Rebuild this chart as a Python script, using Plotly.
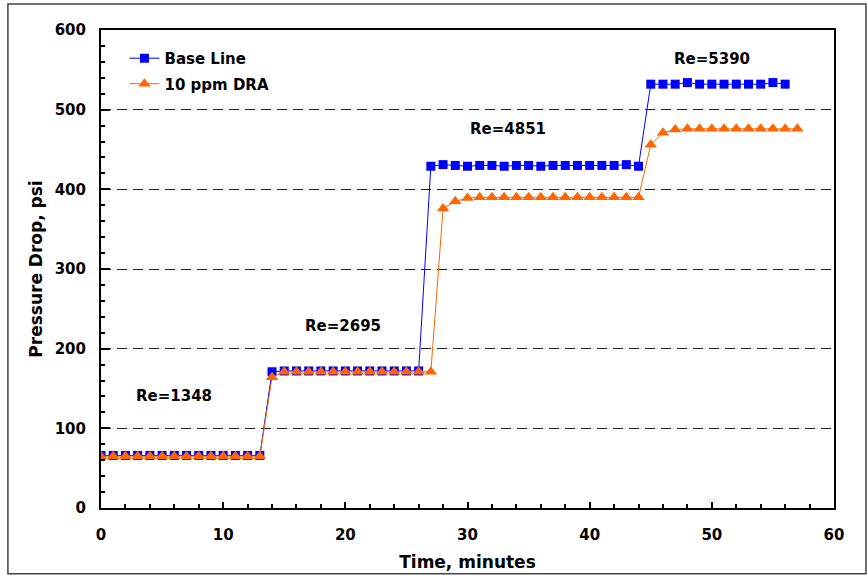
import plotly.graph_objects as go

# Base Line series
base_t = list(range(0, 57))
base_p = ([66]*14 +
          [171, 172, 172, 172, 172, 172, 172, 172, 172, 172, 172, 172, 172] +
          [429, 431, 430, 429, 430, 430, 429, 430, 430, 429, 430, 430, 430, 430, 430, 430, 431, 429] +
          [532, 532, 532, 534, 532, 532, 532, 532, 532, 532, 534, 532])

# 10 ppm DRA series
dra_t = list(range(0, 58))
dra_p = ([65]*14 +
         [164, 171, 171, 171, 171, 171, 171, 171, 171, 171, 171, 171, 171, 171] +
         [376, 385, 389, 390, 390, 390, 390, 390, 390, 390, 390, 390, 390, 390, 390, 390, 390] +
         [456, 471, 475, 476, 476, 476, 476, 476, 476, 476, 476, 476, 476])

ann_text = ["Re=1348", "Re=2695", "Re=4851", "Re=5390"]
ann_x = [6.0, 19.8, 33.3, 50.0]
ann_y = [140, 228, 476, 564]

FONT = "DejaVu Sans, Arial, sans-serif"

fig = go.Figure()
fig.add_trace(go.Scatter(
    x=base_t, y=base_p, name="<b>Base Line</b>", mode="lines+markers",
    legendgroup="a",
    line=dict(color="#0000FF", width=1),
    marker=dict(symbol="square", size=9, color="#0000FF")))
fig.add_trace(go.Scatter(
    x=dra_t, y=dra_p, name="<b>10 ppm DRA</b>", mode="lines+markers",
    legendgroup="b",
    line=dict(color="#FF6600", width=1),
    marker=dict(symbol="triangle-up", size=11, color="#FF6600")))

for t, x, y in zip(ann_text, ann_x, ann_y):
    fig.add_annotation(x=x, y=y, text="<b>" + t + "</b>", showarrow=False,
                       font=dict(family=FONT, size=15, color="black"))

# outer frame
fig.add_shape(type="rect", xref="paper", yref="paper",
              x0=-0.127, x1=1.0436, y0=-0.1375, y1=1.0544,
              line=dict(color="#444444", width=1.5), fillcolor="rgba(0,0,0,0)", layer="below")

fig.update_layout(
    width=867, height=575,
    margin=dict(l=101, r=33, t=30, b=67),
    paper_bgcolor="white", plot_bgcolor="white",
    font=dict(family=FONT, color="black"),
    showlegend=True,
    legend=dict(x=0.032, y=0.975, xanchor="left", yanchor="top",
                traceorder="grouped", tracegroupgap=3,
                bgcolor="rgba(0,0,0,0)", font=dict(family=FONT, size=15, color="black"),
                itemwidth=30),
    xaxis=dict(range=[0, 60], dtick=10, showgrid=False, zeroline=False,
               automargin=False,
               showline=True, linecolor="black", linewidth=2, mirror=True,
               ticks="inside", ticklen=6, tickcolor="black", tickwidth=1.5,
               minor=dict(dtick=2, ticks="inside", ticklen=4, tickcolor="black", tickwidth=1.5),
               tickfont=dict(family=FONT, size=15, color="black"),
               ticklabelstandoff=12,
               title=dict(text="<b>Time, minutes</b>", font=dict(family=FONT, size=17), standoff=13),
               tickprefix="<b>", ticksuffix="</b>"),
    yaxis=dict(range=[0, 600], dtick=100, showgrid=True, gridcolor="#222222",
               griddash="10px,6px", gridwidth=1.3, zeroline=False,
               automargin=False,
               showline=True, linecolor="black", linewidth=2, mirror=True,
               ticks="inside", ticklen=9, tickcolor="black", tickwidth=1.5,
               minor=dict(dtick=20, ticks="inside", ticklen=4, tickcolor="black", tickwidth=1.5, showgrid=False),
               tickfont=dict(family=FONT, size=15, color="black"),
               ticklabelstandoff=10,
               title=dict(text="<b>Pressure Drop, psi</b>", font=dict(family=FONT, size=17), standoff=8),
               tickprefix="<b>", ticksuffix="</b>"),
)

fig.write_html("out.html")
